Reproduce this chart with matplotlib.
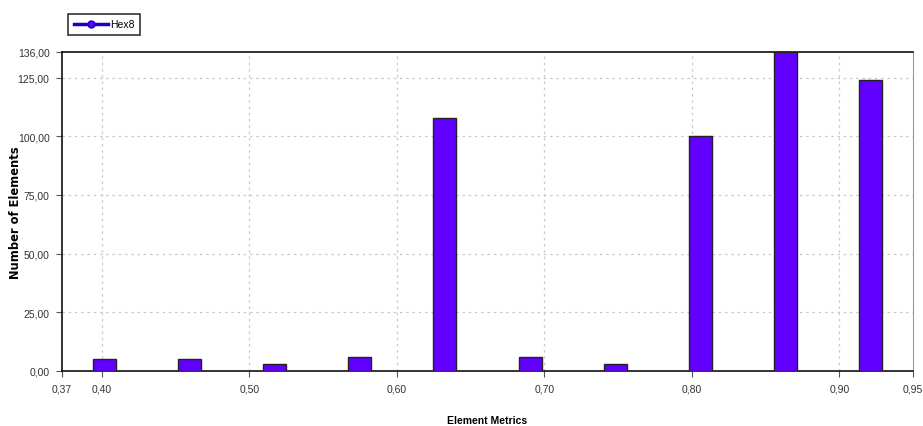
import matplotlib
matplotlib.use("Agg")
import matplotlib.pyplot as plt
from matplotlib.lines import Line2D

# histogram of element quality (Hex8), 10 bins between 0.373 and 0.95
x_min, x_max = 0.373, 0.95
counts = [5, 5, 3, 6, 108, 6, 3, 100, 136, 124]
x_ticks = [0.373, 0.40, 0.50, 0.60, 0.70, 0.80, 0.90, 0.95]
x_tick_labels = ["0,37", "0,40", "0,50", "0,60", "0,70", "0,80", "0,90", "0,95"]
y_ticks = [0, 25, 50, 75, 100, 125, 136]
y_tick_labels = ["0,00", "25,00", "50,00", "75,00", "100,00", "125,00", "136,00"]

narrow = ["Liberation Sans", "DejaVu Sans"]
bar_c = "#6200ff"

n = len(counts)
step = (x_max - x_min) / n
centers = [x_min + step * (i + 0.5) for i in range(n)]

fig = plt.figure(figsize=(9.23, 4.27), dpi=100)
ax = fig.add_axes([0.0672, 0.1295, 0.922, 0.7464])

ax.bar(centers, counts, width=step * 0.27, color=bar_c, edgecolor="#222222",
       linewidth=1.0, zorder=3)

ax.set_xlim(x_min, x_max)
ax.set_ylim(0, 136)
ax.set_xticks(x_ticks)
ax.set_xticklabels(x_tick_labels, family=narrow, fontsize=7.5, color="#333333")
ax.set_yticks(y_ticks)
ax.set_yticklabels(y_tick_labels, family=narrow, fontsize=7.5, color="#333333")
ax.tick_params(length=4, width=0.8, color="#555555", pad=5)

grid_kw = dict(color="#c8c8c8", ls=(0, (2, 3)), lw=0.9, zorder=1)
for v in y_ticks[1:-1]:
    ax.axhline(v, **grid_kw)
for v in x_ticks[1:-1]:
    ax.axvline(v, **grid_kw)

for s in ["left", "bottom", "top"]:
    ax.spines[s].set_color("#111111")
    ax.spines[s].set_linewidth(1.2)
ax.spines["right"].set_color("#999999")

ax.set_xlabel("Element Metrics", family=narrow, fontweight="bold", fontsize=7.5)
ax.xaxis.set_label_coords(0.5, -0.14)
ax.set_ylabel("Number of Elements", family="DejaVu Sans", fontweight="bold",
              fontsize=8.3)
ax.yaxis.set_label_coords(-0.047, 0.5)

handle = Line2D([], [], color="#1a00c0", lw=2.5, marker="o", markersize=5,
                markerfacecolor=bar_c, markeredgecolor="#1a00c0")
leg = fig.legend([handle], ["Hex8"], loc="upper left", bbox_to_anchor=(0.068, 0.978),
                 frameon=True, fancybox=False, handlelength=3.3, borderpad=0.55,
                 handletextpad=0.15, prop={"family": narrow, "size": 7.5})
leg.get_frame().set_edgecolor("black")
leg.get_frame().set_linewidth(1.2)

fig.savefig("out.png", dpi=100)
